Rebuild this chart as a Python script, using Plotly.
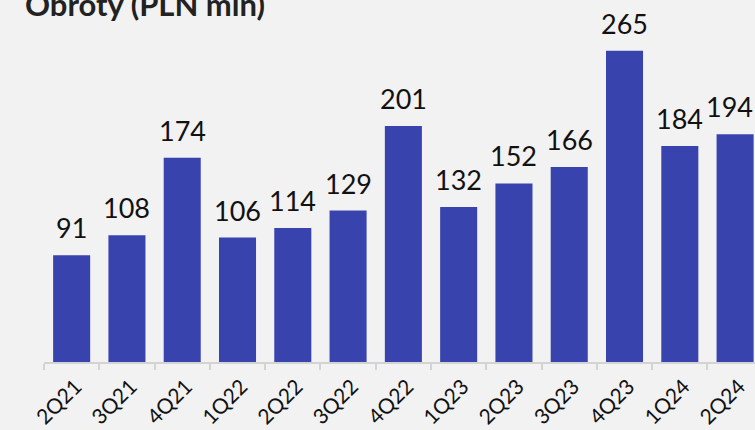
import plotly.graph_objects as go

quarters = ['2Q21', '3Q21', '4Q21', '1Q22', '2Q22', '3Q22', '4Q22',
            '1Q23', '2Q23', '3Q23', '4Q23', '1Q24', '2Q24']
turnover = [91, 108, 174, 106, 114, 129, 201, 132, 152, 166, 265, 184, 194]

fig = go.Figure()
fig.add_trace(go.Bar(
    x=quarters, y=turnover,
    marker_color='#3943AE',
    marker_line_width=0,
    width=0.67,
    cliponaxis=False,
))
# value labels above bars (last one nudged left so it stays on the canvas)
for i, (q, v) in enumerate(zip(quarters, turnover)):
    fig.add_annotation(
        x=q, y=v, text=str(v), yanchor='bottom', yshift=9,
        xshift=-6 if i == len(quarters) - 1 else 0,
        showarrow=False, font=dict(size=27, color='#111'),
    )
fig.update_layout(
    width=755, height=430,
    paper_bgcolor='#f2f2f2',
    plot_bgcolor='#f2f2f2',
    font_family='Lato',
    font_color='#222',
    margin=dict(l=44, t=20, r=0, b=68),
    showlegend=False,
)
fig.update_xaxes(
    range=[-0.5, 12.36],
    showline=True, linecolor='#d3d3d3', linewidth=2,
    ticks='outside', tickson='boundaries', tickcolor='#d3d3d3',
    ticklen=6, tickwidth=2,
    tickangle=-45, tickfont=dict(size=21, color='#111'),
    ticklabelstandoff=2, ticklabelshift=4,
    showgrid=False, automargin=False,
)
fig.update_yaxes(range=[0, 291.2], visible=False)
fig.add_annotation(
    text='<b>Obroty (PLN mln)</b>', xref='paper', yref='paper',
    x=-0.03, y=1, xanchor='left', yanchor='bottom', yshift=-5,
    showarrow=False, font=dict(size=31, color='#222'),
)
fig.write_html('out.html', config={'displayModeBar': False},
               post_script="document.body.style.margin='0px';")
